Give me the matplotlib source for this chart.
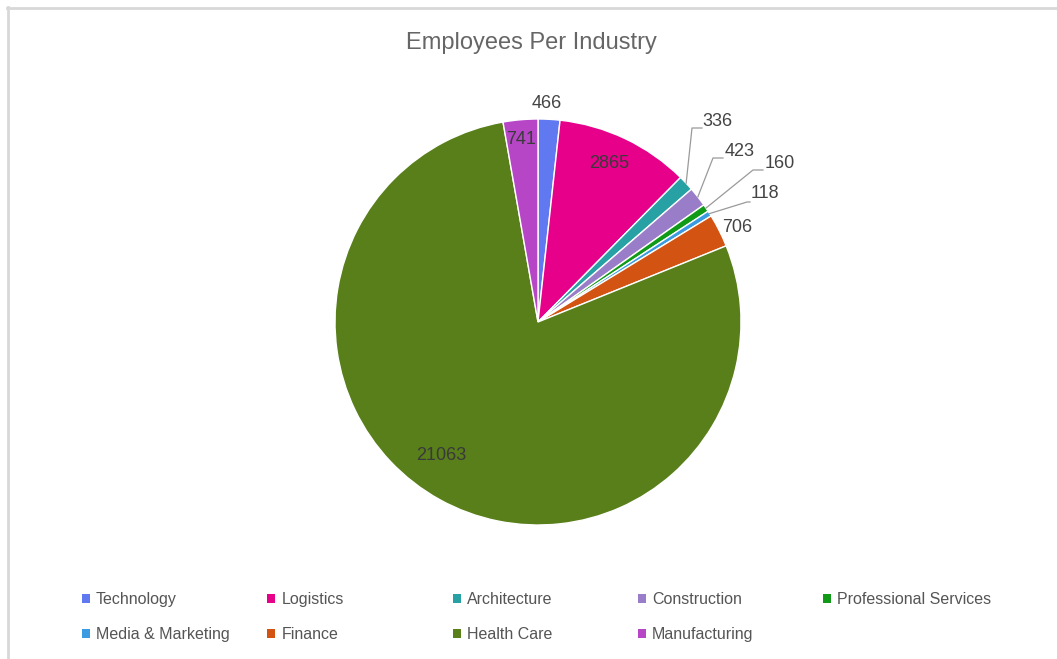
import matplotlib
matplotlib.use("Agg")
import matplotlib.pyplot as plt
from matplotlib.patches import Rectangle
from matplotlib.lines import Line2D
import numpy as np

categories = ["Technology", "Logistics", "Architecture", "Construction",
              "Professional Services", "Media & Marketing", "Finance",
              "Health Care", "Manufacturing"]
values = [466, 2865, 336, 423, 160, 118, 706, 21063, 741]
colors = ["#6079F0", "#E6008A", "#27A1A4", "#9A7DC9", "#109A18",
          "#3A9BE2", "#D25312", "#587F1A", "#B646C6"]
title = "Employees Per Industry"

plt.rcParams["font.family"] = ["Liberation Sans", "DejaVu Sans"]

W, H = 1057, 659
fig = plt.figure(figsize=(W / 100, H / 100), dpi=100)

# pie axes: centre (538,322) radius 203 px
R = 203.0
cx, cy = 538.0, 322.0
half = 260.0
ax = fig.add_axes([(cx - half) / W, (H - cy - half) / H, 2 * half / W, 2 * half / H])

wedges, _ = ax.pie(values, colors=colors, startangle=90, counterclock=False,
                   radius=1.0, wedgeprops=dict(linewidth=1.0, edgecolor="white"))
ax.set_xlim(-half / R, half / R)
ax.set_ylim(-half / R, half / R)
ax.set_aspect("equal")
ax.axis("off")

total = float(sum(values))
cum = 0.0
mids = []
for v in values:
    start = cum
    cum += v
    mids.append(np.deg2rad(90 - (start + v / 2) / total * 360))

def px2d(p):
    return ((p[0] - cx) / R, (cy - p[1]) / R)

lab_fs = 13
# label layout (pixel positions of label text), keyed by category index
inside_layout = {1: (609, 163), 7: (441, 456), 8: (521, 140)}
outside_layout = {0: (547, 104), 6: (737, 227)}
# leader lines: elbow, end, text left/centre
lead_layout = {
    2: ((692, 128), (702, 128), (702, 122)),
    3: ((713, 158), (723, 158), (725, 151)),
    4: ((753, 170), (763, 170), (765, 163)),
    5: ((747, 202), (750, 202), (751, 194)),
}

for i, v in enumerate(values):
    if i in inside_layout:
        t = px2d(inside_layout[i])
        ax.text(t[0], t[1], str(v), ha="center", va="center",
                fontsize=lab_fs, color="#3a3a3a")
    elif i in outside_layout:
        t = px2d(outside_layout[i])
        ax.text(t[0], t[1], str(v), ha="center", va="center",
                fontsize=lab_fs, color="#444444")
    else:
        a = mids[i]
        elbow, end, txt = lead_layout[i]
        e = px2d(elbow)
        n = px2d(end)
        t = px2d(txt)
        ax.add_line(Line2D([np.cos(a), e[0], n[0]], [np.sin(a), e[1], n[1]],
                           color="#9a9a9a", linewidth=0.9))
        ax.text(t[0], t[1], str(v), ha="left", va="center",
                fontsize=lab_fs, color="#444444")

fig.text(531 / W, 1 - 43 / H, title, ha="center", va="center",
         fontsize=17, color="#666666")

# legend, row-major, 5 per row
leg_fs = 11.5
for i, (name, c) in enumerate(zip(categories, colors)):
    row, col = divmod(i, 5)
    x0 = 82 + col * 185.3
    yb = 604 + row * 35
    fig.patches.append(Rectangle((x0 / W, 1 - (yb - 1) / H), 8 / W, 9 / H,
                                 transform=fig.transFigure, facecolor=c,
                                 edgecolor="none"))
    fig.text((x0 + 14) / W, 1 - yb / H, name, ha="left", va="baseline",
             fontsize=leg_fs, color="#555555")

# light border (top and left)
fig.add_artist(Line2D([7 / W, 1], [1 - 7.5 / H, 1 - 7.5 / H], transform=fig.transFigure,
                      color="#d8d8d8", linewidth=2))
fig.add_artist(Line2D([7.5 / W, 7.5 / W], [0, 1 - 7 / H], transform=fig.transFigure,
                      color="#d8d8d8", linewidth=2))

fig.savefig("out.png", dpi=100, facecolor="white")
